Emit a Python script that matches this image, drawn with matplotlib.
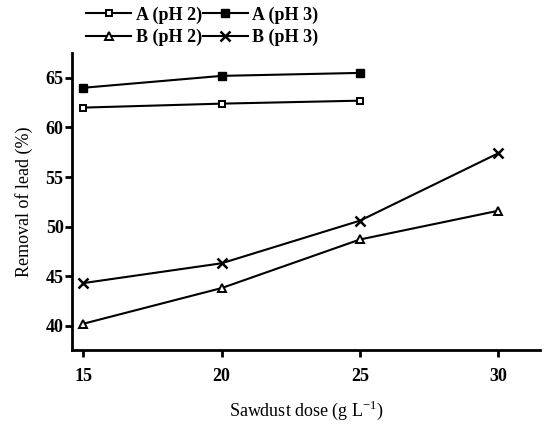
import matplotlib
matplotlib.use('Agg')
import matplotlib.pyplot as plt

# Veriler
dose = [15, 20, 25, 30]
a_ph2 = [62.0, 62.4, 62.7]
a_ph3 = [64.0, 65.2, 65.5]
b_ph2 = [40.2, 43.8, 48.7, 51.6]
b_ph3 = [44.3, 46.3, 50.6, 57.4]
y_ticks = [40, 45, 50, 55, 60, 65]

plt.rcParams['font.family'] = 'Liberation Serif'

fig = plt.figure(figsize=(5.47, 4.28), dpi=100)
ax = fig.add_axes([0.1316, 0.1822, 0.8554, 0.6938])

lw = 1.5
l1, = ax.plot(dose[:3], a_ph2, '-s', color='black', lw=lw, ms=5, mfc='white', mew=1.4, label='A (pH 2)')
l2, = ax.plot(dose[:3], a_ph3, '-s', color='black', lw=lw, ms=5.5, mfc='black', label='A (pH 3)')
l3, = ax.plot(dose, b_ph2, '-^', color='black', lw=lw, ms=6, mfc='white', mew=1.4, label='B (pH 2)')
l4, = ax.plot(dose, b_ph3, '-x', color='black', lw=lw, ms=6.5, mew=1.8, label='B (pH 3)')

ax.set_xlim(14.59, 31.5)
ax.set_ylim(37.55, 67.5)
ax.set_xticks(dose)
ax.set_yticks(y_ticks)
for s in ['top', 'right']:
    ax.spines[s].set_visible(False)
for s in ['left', 'bottom']:
    ax.spines[s].set_linewidth(2)
ax.tick_params(width=2, length=5, labelsize=13, pad=1)
for t in ax.get_xticklabels() + ax.get_yticklabels():
    t.set_fontweight('bold')
ax.tick_params(axis='x', pad=8)

ax.set_xlabel('Sawdust dose (g L$^{\\mathregular{-1}}$)', fontsize=13)
ax.xaxis.set_label_coords(0.5, -0.165)
ax.set_ylabel('Removal of lead (%)', fontsize=13, labelpad=9)

# satır sırası için handle'ları yeniden düzenle
ax.legend([l1, l3, l2, l4], ['A (pH 2)', 'B (pH 2)', 'A (pH 3)', 'B (pH 3)'],
          loc='upper left', bbox_to_anchor=(0.134, 1.015), bbox_transform=fig.transFigure,
          ncol=2, frameon=False, handlelength=2.5, handletextpad=0.25, columnspacing=0.05,
          labelspacing=0.3, borderaxespad=0.3, prop={'size': 13, 'weight': 'bold'})

fig.savefig('out.png', dpi=100)
